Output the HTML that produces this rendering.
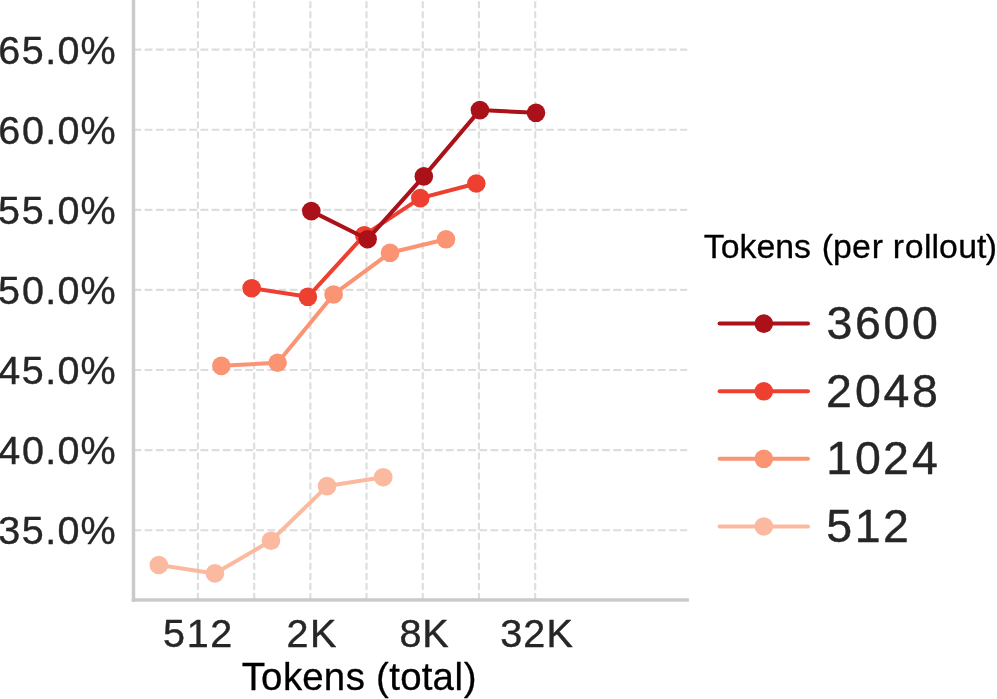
<!DOCTYPE html>
<html lang="en"><head><meta charset="utf-8"><title>Tokens (total) vs accuracy</title>
<style>
html,body{margin:0;padding:0;background:#ffffff;}
body{width:997px;height:699px;overflow:hidden;font-family:"Liberation Sans",sans-serif;}
svg{display:block;will-change:transform;}
text{font-family:"Liberation Sans",sans-serif;}
.tick{fill:#262626;stroke:#262626;stroke-width:0.40px;stroke-linejoin:round;}
.lab{fill:#000000;stroke:#000000;stroke-width:0.3px;stroke-linejoin:round;}
</style></head><body>
<svg width="997" height="699" viewBox="0 0 997 699">
<rect x="0" y="0" width="997" height="699" fill="#ffffff"/>
<g stroke="#dddddd" stroke-width="2.10" fill="none" stroke-dasharray="7.002 3.028">
<line x1="197.95" y1="599.95" x2="197.95" y2="-20"/>
<line x1="254.20" y1="599.95" x2="254.20" y2="-20"/>
<line x1="310.35" y1="599.95" x2="310.35" y2="-20"/>
<line x1="366.50" y1="599.95" x2="366.50" y2="-20"/>
<line x1="422.75" y1="599.95" x2="422.75" y2="-20"/>
<line x1="478.90" y1="599.95" x2="478.90" y2="-20"/>
<line x1="535.20" y1="599.95" x2="535.20" y2="-20"/>
</g>
<g stroke="#dddddd" stroke-width="2.10" fill="none" stroke-dasharray="7.789 3.368">
<line x1="133.50" y1="49.65" x2="687.20" y2="49.65"/>
<line x1="133.50" y1="129.75" x2="687.20" y2="129.75"/>
<line x1="133.50" y1="209.85" x2="687.20" y2="209.85"/>
<line x1="133.50" y1="289.90" x2="687.20" y2="289.90"/>
<line x1="133.50" y1="370.00" x2="687.20" y2="370.00"/>
<line x1="133.50" y1="450.10" x2="687.20" y2="450.10"/>
<line x1="133.50" y1="530.20" x2="687.20" y2="530.20"/>
</g>
<path d="M158.80 565.00 L214.90 573.40 L271.00 540.70 L327.10 486.10 L383.20 477.20" fill="none" stroke="#fbbaa0" stroke-width="4.00" stroke-linejoin="round" stroke-linecap="round"/>
<circle cx="158.80" cy="565.00" r="9.30" fill="#fbbaa0"/>
<circle cx="214.90" cy="573.40" r="9.30" fill="#fbbaa0"/>
<circle cx="271.00" cy="540.70" r="9.30" fill="#fbbaa0"/>
<circle cx="327.10" cy="486.10" r="9.30" fill="#fbbaa0"/>
<circle cx="383.20" cy="477.20" r="9.30" fill="#fbbaa0"/>
<path d="M221.30 365.85 L277.60 362.76 L333.60 294.45 L390.00 252.80 L446.00 239.30" fill="none" stroke="#fb9473" stroke-width="4.00" stroke-linejoin="round" stroke-linecap="round"/>
<circle cx="221.30" cy="365.85" r="9.30" fill="#fb9473"/>
<circle cx="277.60" cy="362.76" r="9.30" fill="#fb9473"/>
<circle cx="333.60" cy="294.45" r="9.30" fill="#fb9473"/>
<circle cx="390.00" cy="252.80" r="9.30" fill="#fb9473"/>
<circle cx="446.00" cy="239.30" r="9.30" fill="#fb9473"/>
<path d="M251.65 288.20 L307.90 296.80 L364.30 235.20 L420.30 198.10 L476.30 183.50" fill="none" stroke="#ee4030" stroke-width="4.00" stroke-linejoin="round" stroke-linecap="round"/>
<circle cx="251.65" cy="288.20" r="9.30" fill="#ee4030"/>
<circle cx="307.90" cy="296.80" r="9.30" fill="#ee4030"/>
<circle cx="364.30" cy="235.20" r="9.30" fill="#ee4030"/>
<circle cx="420.30" cy="198.10" r="9.30" fill="#ee4030"/>
<circle cx="476.30" cy="183.50" r="9.30" fill="#ee4030"/>
<path d="M311.30 211.10 L367.60 239.20 L423.80 176.40 L479.90 110.10 L536.00 112.80" fill="none" stroke="#ab1118" stroke-width="4.00" stroke-linejoin="round" stroke-linecap="round"/>
<circle cx="311.30" cy="211.10" r="9.30" fill="#ab1118"/>
<circle cx="367.60" cy="239.20" r="9.30" fill="#ab1118"/>
<circle cx="423.80" cy="176.40" r="9.30" fill="#ab1118"/>
<circle cx="479.90" cy="110.10" r="9.30" fill="#ab1118"/>
<circle cx="536.00" cy="112.80" r="9.30" fill="#ab1118"/>
<rect x="131.78" y="-5" width="3.45" height="606.68" fill="#cacaca"/>
<rect x="131.78" y="598.23" width="557.15" height="3.45" fill="#cacaca"/>
<text class="tick" x="-1.82 21.79 45.23 57.55 80.59" y="64.00" font-size="39.50">65.0%</text>
<text class="tick" x="-1.82 21.93 45.23 57.55 80.59" y="144.00" font-size="39.50">60.0%</text>
<text class="tick" x="-1.96 21.79 45.23 57.55 80.59" y="224.00" font-size="39.50">55.0%</text>
<text class="tick" x="-1.96 21.93 45.23 57.55 80.59" y="304.00" font-size="39.50">50.0%</text>
<text class="tick" x="-1.82 21.79 45.23 57.55 80.59" y="384.00" font-size="39.50">45.0%</text>
<text class="tick" x="-1.82 21.93 45.23 57.55 80.59" y="464.00" font-size="39.50">40.0%</text>
<text class="tick" x="-1.77 21.79 45.23 57.55 80.59" y="544.00" font-size="39.50">35.0%</text>
<text class="tick" x="163.06 186.75 210.22" y="647" font-size="39.50">512</text>
<text class="tick" x="286.62 309.88" y="647" font-size="39.50">2K</text>
<text class="tick" x="399.52 422.28" y="647" font-size="39.50">8K</text>
<text class="tick" x="500.14 523.35 546.60" y="647" font-size="39.50">32K</text>
<text class="lab" x="241.7" y="690" font-size="38.4" dx="0 0 0.7 0 0.3 0.6 0.2 0.1 0.5 0.2 0.3 0.1 0.5 0.8">Tokens (total)</text>
<text class="lab" x="703.8" y="258" font-size="33.8" dx="0 0 0 0 0 0 0 1.5 0 0.2 0.9 0.2 0.1 0.7 0.4 0 0.2 0.3 0 -0.7">Tokens (per rollout)</text>
<line x1="719.6" y1="323.60" x2="808.0" y2="323.60" stroke="#ab1118" stroke-width="4.00" stroke-linecap="round"/>
<circle cx="763.8" cy="323.60" r="9.30" fill="#ab1118"/>
<text class="tick" x="826.57 855.02 883.52 912.02" y="339.00" font-size="46.50">3600</text>
<line x1="719.6" y1="391.30" x2="808.0" y2="391.30" stroke="#ee4030" stroke-width="4.00" stroke-linecap="round"/>
<circle cx="763.8" cy="391.30" r="9.30" fill="#ee4030"/>
<text class="tick" x="825.92 855.01 883.51 912.02" y="407.00" font-size="46.50">2048</text>
<line x1="719.6" y1="458.80" x2="808.0" y2="458.80" stroke="#fb9473" stroke-width="4.00" stroke-linecap="round"/>
<circle cx="763.8" cy="458.80" r="9.30" fill="#fb9473"/>
<text class="tick" x="826.28 855.01 882.93 912.01" y="474.00" font-size="46.50">1024</text>
<line x1="719.6" y1="526.45" x2="808.0" y2="526.45" stroke="#fbbaa0" stroke-width="4.00" stroke-linecap="round"/>
<circle cx="763.8" cy="526.45" r="9.30" fill="#fbbaa0"/>
<text class="tick" x="826.34 854.78 882.93" y="542.00" font-size="46.50">512</text>
</svg>
</body></html>
